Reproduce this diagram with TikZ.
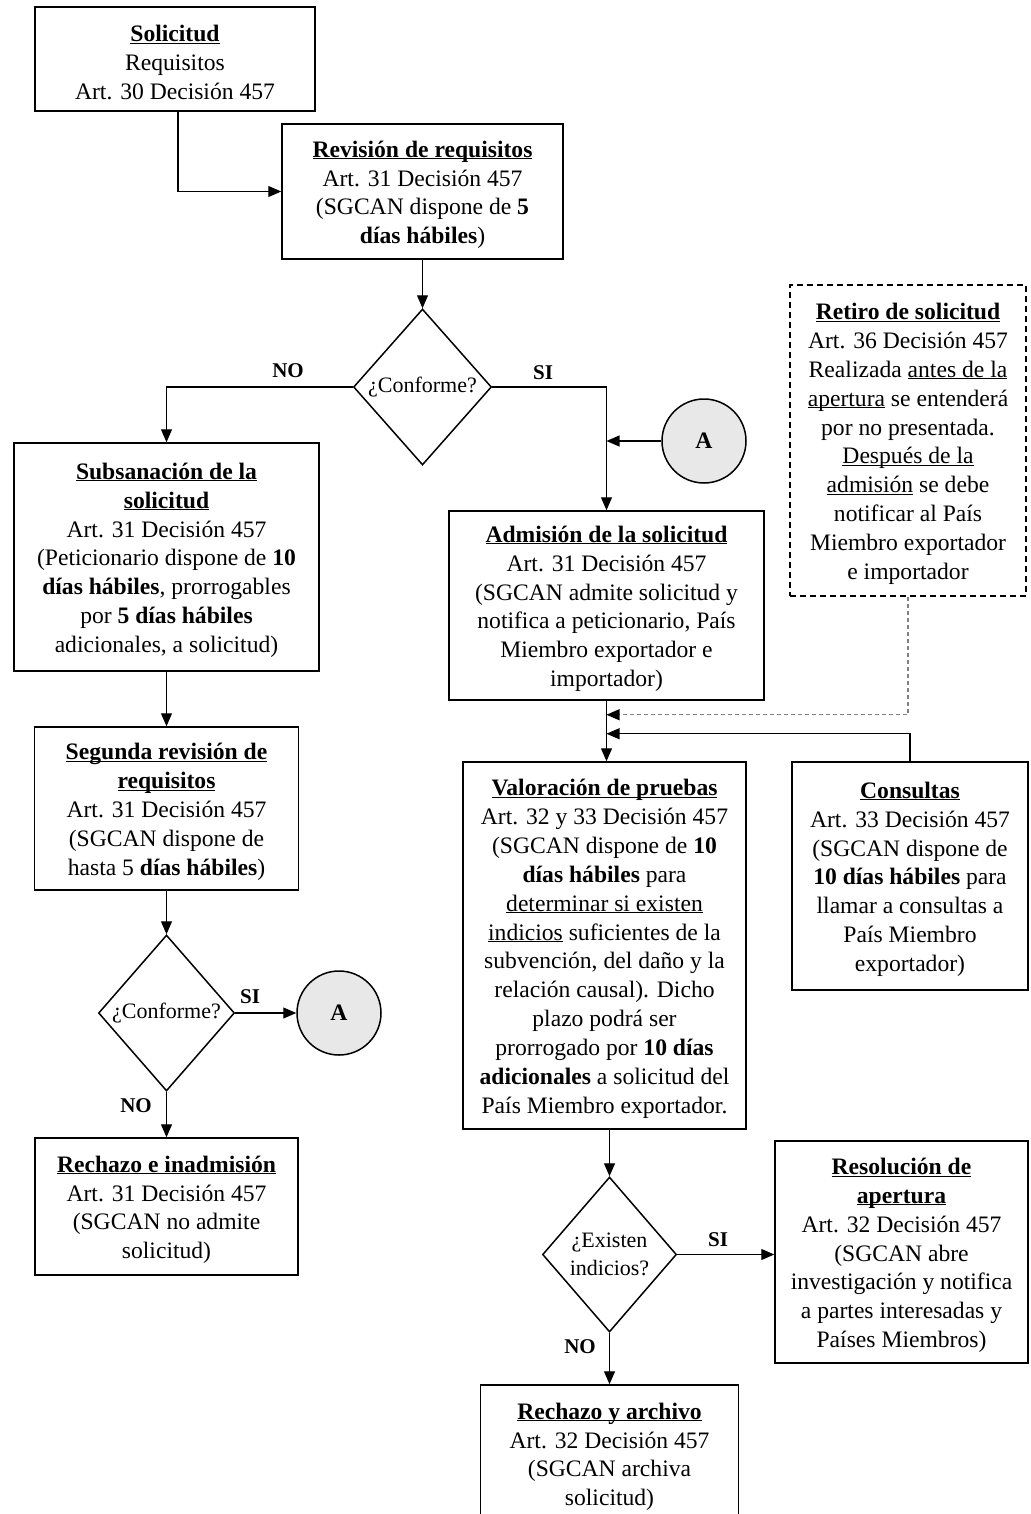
\documentclass[tikz,border=0pt]{standalone}
\usepackage{fontspec}
\setmainfont{Liberation Serif}
\usetikzlibrary{shapes.geometric,arrows.meta,calc}
\newcommand\bodysize{\fontsize{23.6}{28.9}\selectfont}
\newcommand\ulx[1]{\underline{\smash{#1}}}
\newcommand\hd[1]{\underline{\smash{\textbf{#1}}\rule{0pt}{23pt}}}
\newcommand\hdb[1]{\ulx{\textbf{#1}}}
\begin{document}
\begin{tikzpicture}[x=1pt,y=1pt,
  box/.style={draw, line width=1.5pt, align=center, inner sep=0pt, font=\bodysize},
  dbox/.style={box, dash pattern=on 6pt off 4pt},
  dec/.style={draw, diamond, aspect=0.88, line width=1.5pt, inner sep=0pt, align=center, font=\fontsize{22}{28}\selectfont},
  conn/.style={line width=1.1pt, -{Triangle[length=13pt,width=11pt]}},
  dconn/.style={line width=1.1pt, gray, dash pattern=on 4pt off 3pt, -{Triangle[length=13pt,width=11pt,color=black]}},
  circ/.style={draw, circle, line width=1.5pt, fill=gray!18, minimum size=84pt, inner sep=0pt, font=\bodysize\bfseries},
  lab/.style={font=\fontsize{21}{24}\selectfont\bfseries, inner sep=0pt}]
\fill[white] (0,0) rectangle (1030,-1514);
\useasboundingbox (0,0) rectangle (1030,-1514);
\clip (0,0) rectangle (1030,-1514);

% Left column
\node[box, minimum width=280pt, minimum height=104pt] (sol) at (175,-59)
  {\hd{Solicitud}\\Requisitos\\Art. 30 Decisión 457};
\node[box, minimum width=281pt, minimum height=135pt] (rev) at (422.5,-191.5)
  {\hd{Revisión de requisitos}\\Art. 31 Decisión 457\\(SGCAN dispone de \textbf{5}\\\textbf{días hábiles})};
\node[dec, minimum width=138pt, minimum height=156pt] (d1) at (422.5,-387) {¿Conforme?};
\node[box, minimum width=305pt, minimum height=228pt] (sub) at (166.5,-557)
  {\hd{Subsanación de la}\\\hdb{solicitud}\\Art. 31 Decisión 457\\(Peticionario dispone de \textbf{10}\\\textbf{días hábiles}, prorrogables\\por \textbf{5 días hábiles}\\adicionales, a solicitud)};
\node[box, minimum width=264pt, minimum height=163pt] (seg) at (166.5,-808.5)
  {\hd{Segunda revisión de}\\\hdb{requisitos}\\Art. 31 Decisión 457\\(SGCAN dispone de\\hasta 5 \textbf{días hábiles})};
\node[dec, minimum width=136pt, minimum height=156pt] (d2) at (166.5,-1013) {¿Conforme?};
\node[circ] (a2) at (339,-1013) {A};
\node[box, minimum width=263pt, minimum height=137pt] (rei) at (166.5,-1206.5)
  {\hd{Rechazo e inadmisión}\\Art. 31 Decisión 457\\(SGCAN no admite\\solicitud)};

% Right part
\node[circ] (a1) at (704,-441) {A};
\node[box, minimum width=315pt, minimum height=189pt] (adm) at (606.5,-605.5)
  {\hd{Admisión de la solicitud}\\Art. 31 Decisión 457\\(SGCAN admite solicitud y\\notifica a peticionario, País\\Miembro exportador e\\importador)};
\node[dbox, minimum width=236pt, minimum height=311pt] (ret) at (908,-440.5)
  {\hd{Retiro de solicitud}\\Art. 36 Decisión 457\\Realizada \ulx{antes de la}\\\ulx{apertura} se entenderá\\por no presentada.\\\ulx{Después de la}\\\ulx{admisión} se debe\\notificar al País\\Miembro exportador\\e importador};
\node[box, minimum width=283pt, minimum height=367pt] (val) at (604.5,-945.5)
  {\hd{Valoración de pruebas}\\Art. 32 y 33 Decisión 457\\(SGCAN dispone de \textbf{10}\\\textbf{días hábiles} para\\\ulx{determinar si existen}\\\ulx{indicios} suficientes de la\\subvención, del daño y la\\relación causal). Dicho\\plazo podrá ser\\prorrogado por \textbf{10 días}\\\textbf{adicionales} a solicitud del\\País Miembro exportador.};
\node[box, minimum width=236pt, minimum height=228pt] (con) at (910,-876)
  {\hd{Consultas}\\Art. 33 Decisión 457\\(SGCAN dispone de\\\textbf{10 días hábiles} para\\llamar a consultas a\\País Miembro\\exportador)};
\node[dec, minimum width=134pt, minimum height=155pt] (d3) at (609.5,-1254.5) {¿Existen\\indicios?};
\node[box, minimum width=253pt, minimum height=222pt] (res) at (901.5,-1252)
  {\hd{Resolución de}\\\hdb{apertura}\\Art. 32 Decisión 457\\(SGCAN abre\\investigación y notifica\\a partes interesadas y\\Países Miembros)};
\node[box, minimum width=258pt, minimum height=137pt] (rya) at (609.5,-1453.5)
  {\hd{Rechazo y archivo}\\Art. 32 Decisión 457\\(SGCAN archiva\\solicitud)};

% Connectors
\draw[conn] ([xshift=3pt]sol.south) |- (rev.west);
\draw[conn] (rev.south) -- (d1.north);
\draw[conn] (d1.west) -| (sub.north);
\draw[conn] (d1.east) -| (adm.north);
\coordinate (pa) at (a1.west -| adm.north);
\draw[conn] (a1.west) -- (pa);
\draw[conn] (sub.south) -- (sub.south |- seg.north);
\draw[conn] (seg.south) -- (d2.north);
\draw[conn] (d2.east) -- (a2.west);
\draw[conn] (d2.south) -- (rei.north);
\coordinate (m1) at ($(adm.south)+(0,-14)$);
\coordinate (m2) at ($(adm.south)+(0,-33)$);
\draw[dconn] (ret.south) |- (m1);
\draw[conn] (con.north) |- (m2);
\draw[conn] (adm.south) -- (adm.south |- val.north);
\draw[conn] (val.south -| d3.north) -- (d3.north);
\draw[conn] (d3.east) -- (d3.east -| res.west);
\draw[conn] (d3.south) -- (rya.north);

% Labels
\node[lab] (l1) at (288,-371) {NO};
\node[lab] (l2) at (543,-373) {SI};
\node[lab] (l3) at (250,-997) {SI};
\node[lab] (l4) at (136,-1106) {NO};
\node[lab] (l5) at (718,-1240) {SI};
\node[lab] (l6) at (580,-1347) {NO};
\end{tikzpicture}
\end{document}
